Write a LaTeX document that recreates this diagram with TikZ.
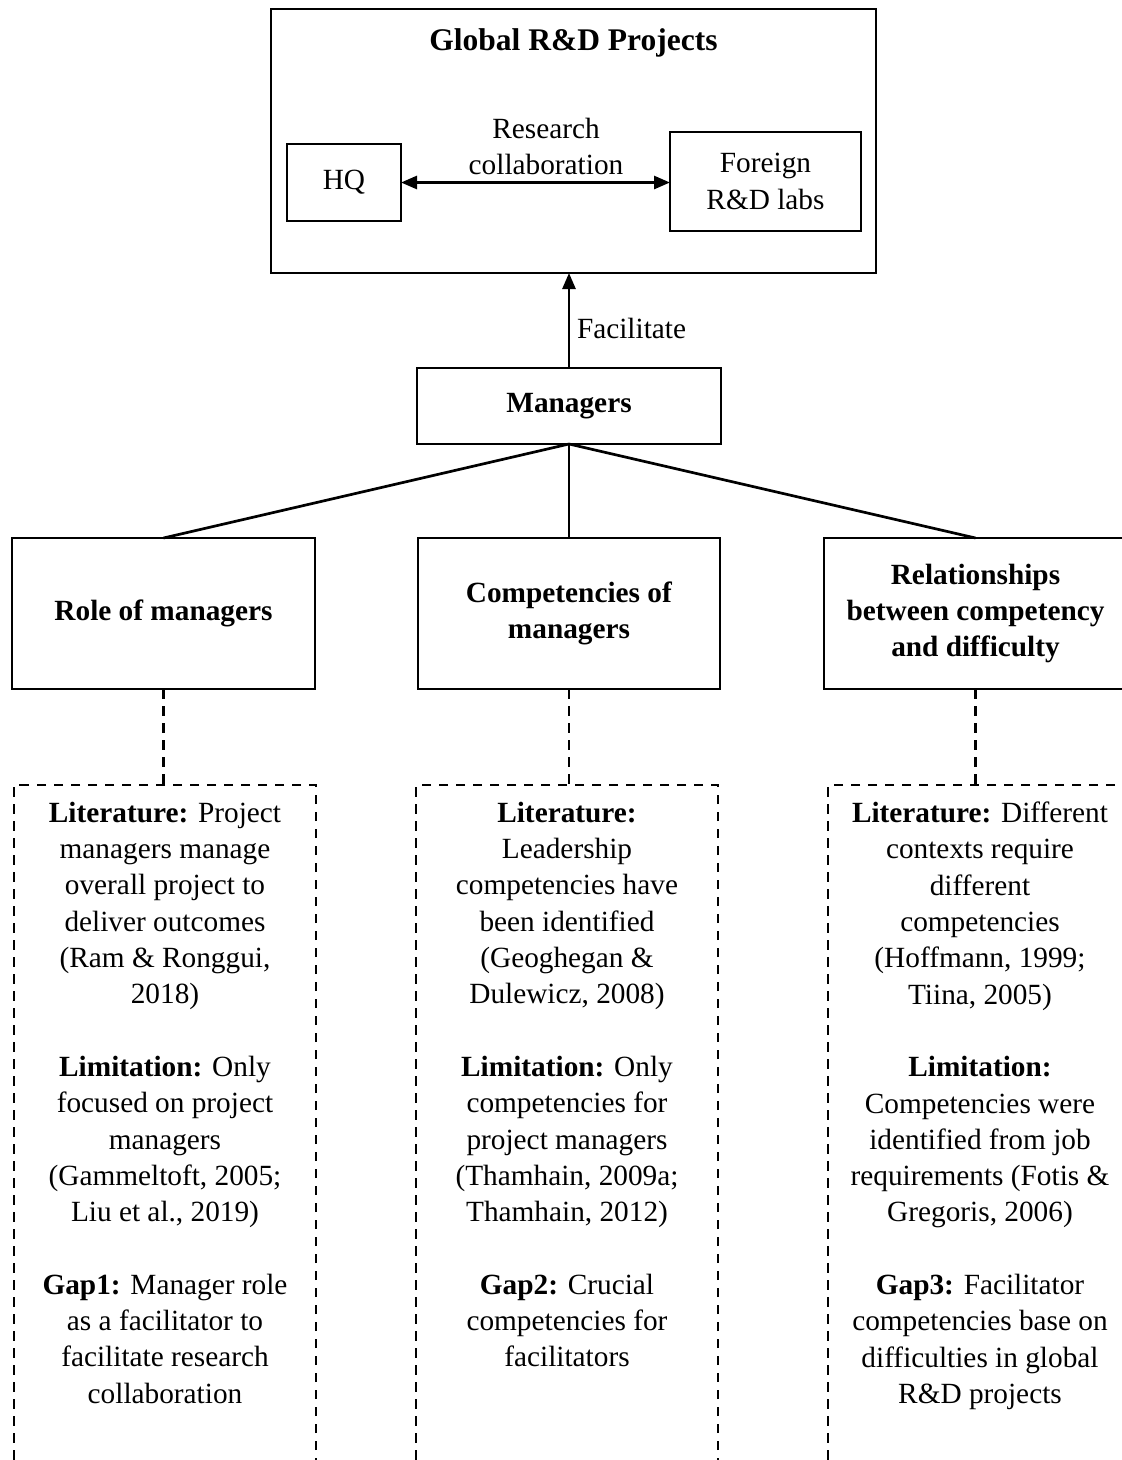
\documentclass[tikz,border=0pt]{standalone}
\usepackage{fontspec}
\setmainfont{Liberation Serif}
\usetikzlibrary{arrows.meta}
\tikzset{
  x=1pt, y=-1pt,
  every node/.style={inner sep=0pt, outer sep=0pt, font=\fontsize{29.3}{36.3}\selectfont},
  solidbox/.style={draw=black, line width=2.7pt, rectangle, align=center},
  dbox/.style={draw=black, line width=2.5pt, rectangle, dash pattern=on 9.5pt off 7.5pt, minimum width=302pt, minimum height=720pt, anchor=north},
  coltext/.style={anchor=north, align=center},
  conn/.style={draw=black, line width=2.7pt},
  dconn/.style={draw=black, line width=2.5pt, dash pattern=on 9.5pt off 7.5pt},
  tip/.style={-{Triangle[length=16pt,width=13pt]}},
}
\begin{document}
\begin{tikzpicture}
\clip (0,0) rectangle (1122,1460);
\useasboundingbox (0,0) rectangle (1122,1460);
\fill[white] (0,0) rectangle (1122,1460);

% top group
\node[solidbox, minimum width=605pt, minimum height=264pt] (top) at (573.5,141) {};
\node[anchor=base] (title) at (573.5,50) {\fontsize{31.5}{36}\selectfont\textbf{Global R\&D Projects}};
\node[solidbox, minimum width=114pt, minimum height=77pt] (hq) at (344,182.5) {HQ};
\node[solidbox, minimum width=191pt, minimum height=99pt] (foreign) at (765.5,181.5) {Foreign\\R\&D labs};
\draw[conn, {Triangle[length=16pt,width=13pt]}-{Triangle[length=16pt,width=13pt]}] (hq.east) -- (hq.east -| foreign.west);
\node[anchor=north, align=center] (rc) at (546,118) {Research\\collaboration};

% managers
\node[solidbox, minimum width=304pt, minimum height=76pt] (mgr) at (569,406) {\textbf{Managers}};
\draw[conn, tip] (mgr.north) -- (mgr.north |- top.south) node[pos=0.5, anchor=west, xshift=8pt, yshift=-8pt] (fac) {Facilitate};

% three boxes
\node[solidbox, minimum width=303pt, minimum height=151pt] (role) at (163.5,613.5) {\textbf{Role of managers}};
\node[solidbox, minimum width=302pt, minimum height=151pt] (comp) at (569,613.5) {\textbf{Competencies of}\\\textbf{managers}};
\node[solidbox, minimum width=303pt, minimum height=151pt] (rel) at (975.5,613.5) {\textbf{Relationships}\\\textbf{between competency}\\\textbf{and difficulty}};

\draw[conn] (mgr.south) -- (role.north);
\draw[conn] (mgr.south) -- (comp.north);
\draw[conn] (mgr.south) -- (rel.north);

% dashed boxes
\node[dbox] (dA) at (165,785) {};
\node[dbox] (dB) at (567,785) {};
\node[dbox] (dC) at (979,785) {};

\draw[dconn] (role.south) -- (role.south |- dA.north);
\draw[dconn] (comp.south) -- (comp.south |- dB.north);
\draw[dconn] (rel.south) -- (rel.south |- dC.north);

\node[coltext] (tA) at (165,802) {\textbf{Literature:} Project\\ managers manage\\ overall project to\\ deliver outcomes\\ (Ram \& Ronggui,\\ 2018)\\[36.3pt]
\textbf{Limitation:} Only\\ focused on project\\ managers\\ (Gammeltoft, 2005;\\ Liu et al., 2019)\\[36.3pt]
\textbf{Gap1:} Manager role\\ as a facilitator to\\ facilitate research\\ collaboration};

\node[coltext] (tB) at (567,802) {\textbf{Literature:}\\ Leadership\\ competencies have\\ been identified\\ (Geoghegan \&\\ Dulewicz, 2008)\\[36.3pt]
\textbf{Limitation:} Only\\ competencies for\\ project managers\\ (Thamhain, 2009a;\\ Thamhain, 2012)\\[36.3pt]
\textbf{Gap2:} Crucial\\ competencies for\\ facilitators};

\node[coltext] (tC) at (980,802) {\textbf{Literature:} Different\\ contexts require\\ different\\ competencies\\ (Hoffmann, 1999;\\ Tiina, 2005)\\[36.3pt]
\textbf{Limitation:}\\ Competencies were\\ identified from job\\ requirements (Fotis \&\\ Gregoris, 2006)\\[36.3pt]
\textbf{Gap3:} Facilitator\\ competencies base on\\ difficulties in global\\ R\&D projects};
\end{tikzpicture}
\end{document}
